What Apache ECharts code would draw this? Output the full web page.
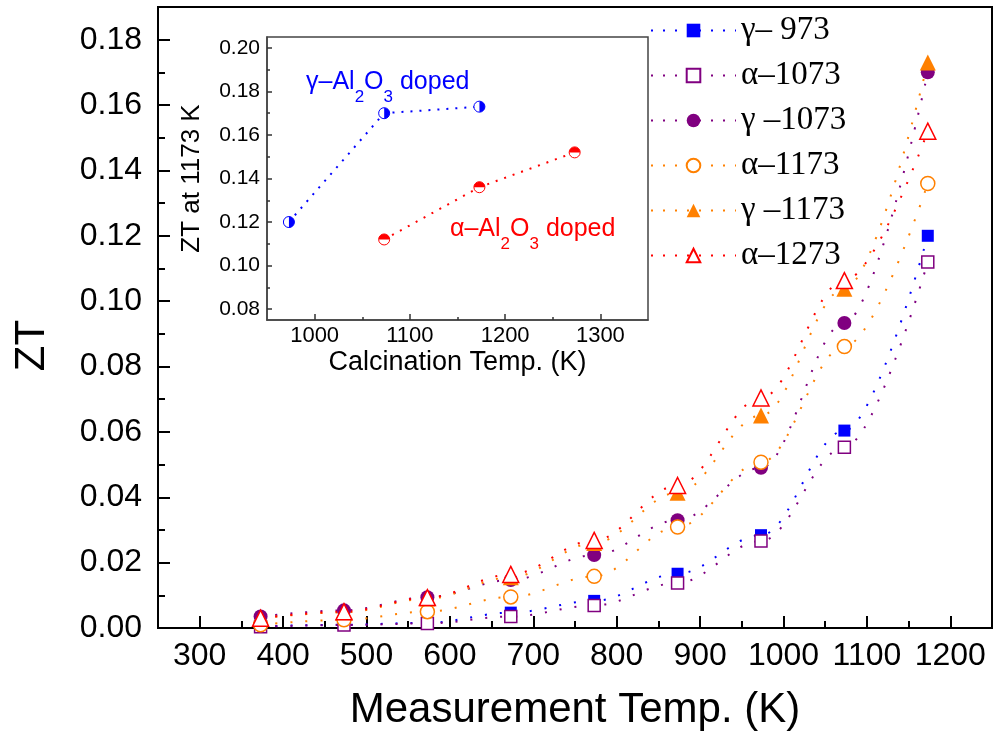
<!DOCTYPE html>
<html>
<head>
<meta charset="utf-8">
<script src="https://cdn.jsdelivr.net/npm/echarts@6/dist/echarts.min.js"></script>
<style>
  html, body { margin: 0; padding: 0; background: #fff; }
  #chart { width: 995px; height: 736px; }
</style>
</head>
<body>
<div id="chart"></div>
<script>
// Measurement temperatures (K) and ZT for each sample (γ / α Al2O3, calcination temperature)
const measTemps = [373, 473, 573, 673, 773, 873, 973, 1073, 1173];
const gamma973  = [0.0005, 0.0010, 0.0016, 0.0047, 0.0083, 0.0166, 0.0284, 0.0604, 0.120];
const alpha1073 = [0.0004, 0.0009, 0.0014, 0.0035, 0.0069, 0.0138, 0.0266, 0.0553, 0.112];
const gamma1073 = [0.0035, 0.0054, 0.0094, 0.0147, 0.0223, 0.0330, 0.0490, 0.0933, 0.170];
const alpha1173 = [0.0010, 0.0025, 0.0050, 0.0095, 0.0158, 0.0309, 0.0507, 0.0861, 0.136];
const gamma1173 = [0.0030, 0.0048, 0.0090, 0.0155, 0.0260, 0.0414, 0.0650, 0.1038, 0.173];
const alpha1273 = [0.0030, 0.0050, 0.0093, 0.0164, 0.0268, 0.0436, 0.0704, 0.1063, 0.152];
const seriesNames = ['γ– 973', 'α–1073', 'γ –1073', 'α–1173', 'γ –1173', 'α–1273'];

// Main axis ticks
const xTicks = [300, 400, 500, 600, 700, 800, 900, 1000, 1100, 1200];
const xMinorTicks = [350, 450, 550, 650, 750, 850, 950, 1050, 1150];
const yTicks = [0, 0.02, 0.04, 0.06, 0.08, 0.10, 0.12, 0.14, 0.16, 0.18];
const yMinorTicks = [0.01, 0.03, 0.05, 0.07, 0.09, 0.11, 0.13, 0.15, 0.17];

// Inset: ZT at 1173 K versus calcination temperature
const calcTempsGamma = [973, 1073, 1173];
const ztGamma = [0.120, 0.170, 0.173];
const calcTempsAlpha = [1073, 1173, 1273];
const ztAlpha = [0.112, 0.136, 0.152];
const insetXTicks = [1000, 1100, 1200, 1300];
const insetXMinorTicks = [1050, 1150, 1250];
const insetYTicks = [0.08, 0.10, 0.12, 0.14, 0.16, 0.18, 0.20];
const insetYMinorTicks = [0.09, 0.11, 0.13, 0.15, 0.17, 0.19];

const BLUE = '#0000FF', PURPLE = '#800080', ORANGE = '#FF8000', RED = '#FF0000';
const SANS = 'Arial, "Liberation Sans", sans-serif';
const SERIF = '"Times New Roman", "Liberation Serif", serif';

function pairs(xs, ys) { return xs.map((x, i) => [x, ys[i]]); }

function mainSeries(name, values, symbol, size, color, filled) {
  return {
    name: name,
    type: 'line',
    xAxisIndex: 0,
    yAxisIndex: 0,
    data: pairs(measTemps, values),
    symbol: symbol,
    symbolSize: size,
    smooth: 0.35,
    smoothMonotone: 'x',
    color: color,
    itemStyle: filled
      ? { color: color }
      : { color: '#fff', borderColor: color, borderWidth: 1.5 },
    lineStyle: { color: color, width: 2, type: [2, 13] }
  };
}

function valueAxis(extra) {
  return Object.assign({
    type: 'value',
    splitLine: { show: false },
    axisLine: { show: true, onZero: false, lineStyle: { color: '#000', width: 2 } }
  }, extra);
}

const plainInt = v => String(Math.round(v));
const twoDec = v => v.toFixed(2);

const chart = echarts.init(document.getElementById('chart'));

const option = {
  animation: false,
  backgroundColor: '#fff',
  grid: [
    { left: 158, top: 7, width: 834, height: 621, show: true, borderColor: '#000', borderWidth: 2, backgroundColor: '#fff' },
    { left: 267, top: 37, width: 381, height: 283, show: true, borderColor: '#444', borderWidth: 1.5, backgroundColor: '#fff' }
  ],
  legend: {
    data: seriesNames,
    orient: 'vertical',
    left: 650,
    top: 14,
    padding: 0,
    itemGap: 12,
    itemWidth: 85,
    itemHeight: 17,
    selectedMode: false,
    lineStyle: { width: 2, type: [2, 10] },
    textStyle: { fontFamily: SERIF, fontSize: 33, color: '#000' }
  },
  xAxis: [
    valueAxis({
      gridIndex: 0, min: 250, max: 1250, position: 'bottom',
      name: 'Measurement Temp. (K)', nameLocation: 'middle', nameGap: 61,
      nameTextStyle: { fontFamily: SANS, fontSize: 42, color: '#000' },
      axisTick: { show: true, inside: true, length: 12, customValues: xTicks, lineStyle: { color: '#000', width: 2 } },
      axisLabel: { customValues: xTicks, formatter: plainInt, fontFamily: SANS, fontSize: 32, color: '#000', margin: 12 }
    }),
    valueAxis({
      gridIndex: 0, min: 250, max: 1250, position: 'bottom',
      axisLine: { show: false },
      axisTick: { show: true, inside: true, length: 7, customValues: xMinorTicks, lineStyle: { color: '#000', width: 2 } },
      axisLabel: { show: false }
    }),
    valueAxis({
      gridIndex: 1, min: 950, max: 1350, position: 'bottom',
      name: 'Calcination Temp. (K)', nameLocation: 'middle', nameGap: 29,
      nameTextStyle: { fontFamily: SANS, fontSize: 27, color: '#000' },
      axisLine: { show: true, onZero: false, lineStyle: { color: '#444', width: 1.5 } },
      axisTick: { show: true, inside: true, length: 6, customValues: insetXTicks, lineStyle: { color: '#333', width: 1.5 } },
      axisLabel: { customValues: insetXTicks, formatter: plainInt, fontFamily: SANS, fontSize: 22, color: '#000', margin: 5 }
    }),
    valueAxis({
      gridIndex: 1, min: 950, max: 1350, position: 'bottom',
      axisLine: { show: false },
      axisTick: { show: true, inside: true, length: 3, customValues: insetXMinorTicks, lineStyle: { color: '#333', width: 1.5 } },
      axisLabel: { show: false }
    })
  ],
  yAxis: [
    valueAxis({
      gridIndex: 0, min: 0, max: 0.19, position: 'left',
      name: 'ZT', nameLocation: 'middle', nameGap: 105,
      nameTextStyle: { fontFamily: SANS, fontSize: 42, color: '#000', padding: [0, 56, 0, 0] },
      axisTick: { show: true, inside: true, length: 12, customValues: yTicks, lineStyle: { color: '#000', width: 2 } },
      axisLabel: { customValues: yTicks, formatter: twoDec, fontFamily: SANS, fontSize: 32, color: '#000', margin: 16 }
    }),
    valueAxis({
      gridIndex: 0, min: 0, max: 0.19, position: 'left',
      axisLine: { show: false },
      axisTick: { show: true, inside: true, length: 7, customValues: yMinorTicks, lineStyle: { color: '#000', width: 2 } },
      axisLabel: { show: false }
    }),
    valueAxis({
      gridIndex: 1, min: 0.075, max: 0.205, position: 'left',
      name: 'ZT at 1173 K', nameLocation: 'middle', nameGap: 62,
      nameTextStyle: { fontFamily: SANS, fontSize: 26, color: '#000' },
      axisLine: { show: true, onZero: false, lineStyle: { color: '#444', width: 1.5 } },
      axisTick: { show: true, inside: true, length: 5, customValues: insetYTicks, lineStyle: { color: '#333', width: 1.5 } },
      axisLabel: { customValues: insetYTicks, formatter: twoDec, fontFamily: SANS, fontSize: 21, color: '#000', margin: 7 }
    }),
    valueAxis({
      gridIndex: 1, min: 0.075, max: 0.205, position: 'left',
      axisLine: { show: false },
      axisTick: { show: true, inside: true, length: 3, customValues: insetYMinorTicks, lineStyle: { color: '#333', width: 1.5 } },
      axisLabel: { show: false }
    })
  ],
  series: [
    mainSeries(seriesNames[0], gamma973, 'rect', 12, BLUE, true),
    mainSeries(seriesNames[1], alpha1073, 'rect', 12, PURPLE, false),
    mainSeries(seriesNames[2], gamma1073, 'circle', 14, PURPLE, true),
    mainSeries(seriesNames[3], alpha1173, 'circle', 14, ORANGE, false),
    mainSeries(seriesNames[4], gamma1173, 'triangle', 16, ORANGE, true),
    mainSeries(seriesNames[5], alpha1273, 'triangle', 16, RED, false),

    // Inset: open circles joined by dotted lines, with half-filled overlays on top
    {
      name: 'γ-Al2O3', type: 'line', xAxisIndex: 2, yAxisIndex: 2, z: 3,
      data: pairs(calcTempsGamma, ztGamma),
      symbol: 'circle', symbolSize: 11,
      itemStyle: { color: '#fff', borderColor: BLUE, borderWidth: 1 },
      lineStyle: { color: BLUE, width: 2, type: [2, 7] }
    },
    {
      name: 'γ-Al2O3 half', type: 'scatter', xAxisIndex: 2, yAxisIndex: 2, z: 6,
      data: pairs(calcTempsGamma, ztGamma),
      symbol: 'path://M-10,0M0,-10A10,10,0,0,1,0,10Z', symbolSize: 11,
      itemStyle: { color: BLUE, opacity: 1 }
    },
    {
      name: 'α-Al2O3', type: 'line', xAxisIndex: 2, yAxisIndex: 2, z: 3,
      data: pairs(calcTempsAlpha, ztAlpha),
      symbol: 'circle', symbolSize: 11,
      itemStyle: { color: '#fff', borderColor: RED, borderWidth: 1 },
      lineStyle: { color: RED, width: 2, type: [2, 7] }
    },
    {
      name: 'α-Al2O3 half', type: 'scatter', xAxisIndex: 2, yAxisIndex: 2, z: 6,
      data: pairs(calcTempsAlpha, ztAlpha),
      symbol: 'path://M0,10M-10,0A10,10,0,0,1,10,0Z', symbolSize: 11,
      itemStyle: { color: RED, opacity: 1 }
    }
  ],
  graphic: [
    {
      type: 'text', left: 306, top: 70, z: 100,
      style: {
        text: '{n|γ–Al}{s|2}{n|O}{s|3}{n| doped}',
        fill: BLUE,
        rich: {
          n: { fontFamily: SANS, fontSize: 25, lineHeight: 26, verticalAlign: 'top', fill: BLUE },
          s: { fontFamily: SANS, fontSize: 17, lineHeight: 17, padding: [19, 0, 0, 0], verticalAlign: 'top', fill: BLUE }
        }
      }
    },
    {
      type: 'text', left: 450, top: 217, z: 100,
      style: {
        text: '{n|α–Al}{s|2}{n|O}{s|3}{n| doped}',
        fill: RED,
        rich: {
          n: { fontFamily: SANS, fontSize: 25, lineHeight: 26, verticalAlign: 'top', fill: RED },
          s: { fontFamily: SANS, fontSize: 17, lineHeight: 17, padding: [19, 0, 0, 0], verticalAlign: 'top', fill: RED }
        }
      }
    }
  ]
};

chart.setOption(option);
</script>
</body>
</html>
